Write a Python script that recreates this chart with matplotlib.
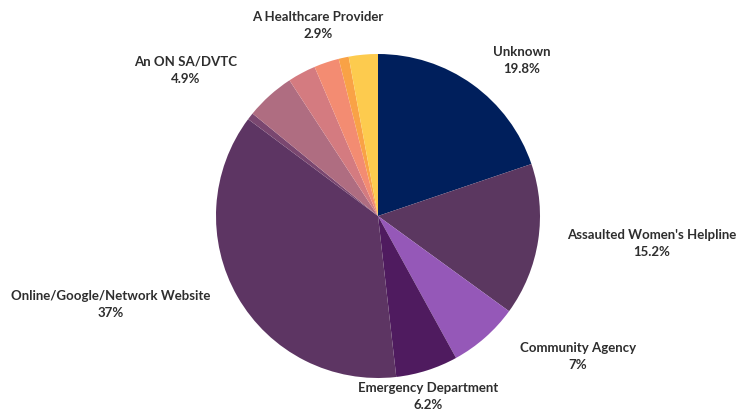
import matplotlib
matplotlib.use("Agg")
import matplotlib.pyplot as plt

# Referral sources, clockwise from 12 o'clock
sources = ["Unknown", "Assaulted Women's Helpline", "Community Agency",
           "Emergency Department", "Online/Google/Network Website", "",
           "An ON SA/DVTC", "", "", "", "A Healthcare Provider"]
shares = [19.8, 15.2, 7.0, 6.2, 37.0, 0.7, 4.9, 2.8, 2.5, 1.0, 2.9]
pct_text = ["19.8%", "15.2%", "7%", "6.2%", "37%", "", "4.9%", "", "", "", "2.9%"]
colors = ["#001f5c", "#5b3760", "#9558b8", "#4f1b5f", "#5d3563", "#7a4770",
          "#af6d81", "#d47b80", "#f38c72", "#f9a246", "#fdcb4e"]

# where each label sits (figure pixels, centre of the name line)
label_pos = {
    "Unknown": (522, 52),
    "Assaulted Women's Helpline": (652, 235),
    "Community Agency": (578, 348),
    "Emergency Department": (428, 388),
    "Online/Google/Network Website": (111, 296),
    "An ON SA/DVTC": (186, 62),
    "A Healthcare Provider": (318, 17),
}

W, H = 741, 412
fig = plt.figure(figsize=(W / 100, H / 100), dpi=100)
cx, cy, r = 378, 216, 162
ax = fig.add_axes([(cx - r) / W, (H - cy - r) / H, 2 * r / W, 2 * r / H])
ax.pie(shares, colors=colors, startangle=90, counterclock=False, radius=1,
       wedgeprops=dict(linewidth=0))
ax.set_xlim(-1, 1)
ax.set_ylim(-1, 1)
ax.set_aspect("auto")
ax.axis("off")

for name, pct in zip(sources, pct_text):
    if not name:
        continue
    x, y = label_pos[name]
    fig.text(x / W, 1 - y / H, name, ha="center", va="center",
             fontsize=9.5, fontweight="bold", family="Lato", color="#2e2e2e")
    fig.text(x / W, 1 - (y + 17) / H, pct, ha="center", va="center",
             fontsize=9.5, fontweight="bold", family="Lato", color="#2e2e2e")

fig.savefig("out.png", dpi=100, facecolor="white")
